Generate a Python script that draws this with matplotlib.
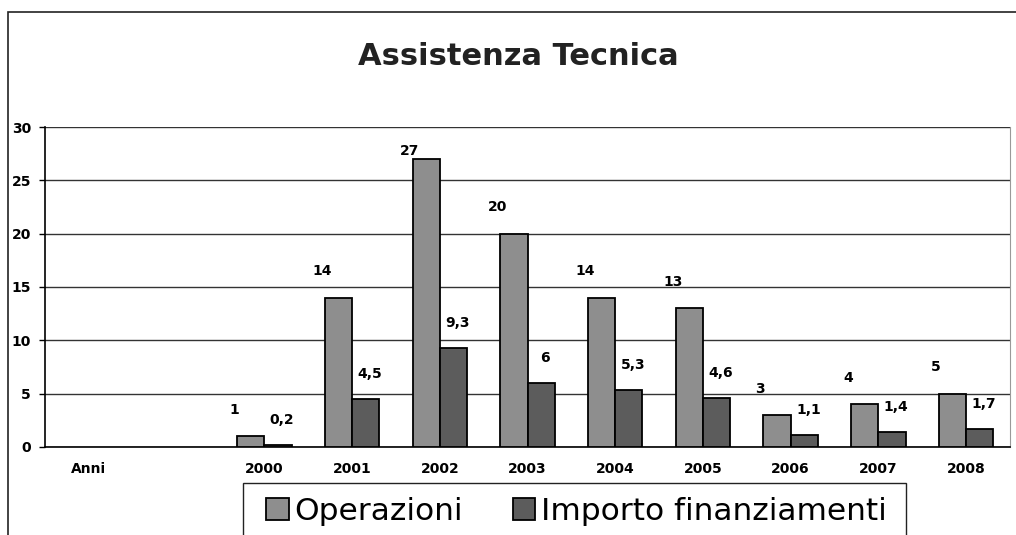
import numpy as np
import matplotlib
matplotlib.use("Agg")
import matplotlib.pyplot as plt
from matplotlib.patches import Rectangle

# -------------------------
# DATA
# -------------------------
categories = ["Anni", "", "2000", "2001", "2002", "2003", "2004",
              "2005", "2006", "2007", "2008"]
operazioni = [np.nan, np.nan, 1, 14, 27, 20, 14, 13, 3, 4, 5]
importo = [np.nan, np.nan, 0.2, 4.5, 9.3, 6, 5.3, 4.6, 1.1, 1.4, 1.7]
yticks = [0, 5, 10, 15, 20, 25, 30]

title = "Assistenza Tecnica"
series_names = ["Operazioni", "Importo finanziamenti"]

col_op = "#8e8e8e"
col_imp = "#5c5c5c"
font = ["DejaVu Sans"]


def fmt(v):
    # italian decimal comma
    return f"{v:g}".replace(".", ",")


fig = plt.figure(figsize=(10.16, 5.35), dpi=100)
ax = fig.add_axes([45 / 1016, 88 / 535, 965 / 1016, 320 / 535])

x = np.arange(len(categories))
w = 0.31
bars_op = ax.bar(x - w / 2, operazioni, w, color=col_op, edgecolor="black",
                 linewidth=1.3, zorder=3, label=series_names[0])
bars_imp = ax.bar(x + w / 2, importo, w, color=col_imp, edgecolor="black",
                  linewidth=1.3, zorder=3, label=series_names[1])

# value labels, placed up-left of the grey bars and above the dark ones
for xi, v in zip(x, operazioni):
    if np.isnan(v):
        continue
    dy = 19 if v < 25 else 6
    ax.annotate(fmt(v), (xi - w / 2, v), xytext=(-12, dy),
                textcoords="offset points", ha="center", va="center",
                fontsize=10, fontweight="bold", family=font)
for xi, v in zip(x, importo):
    if np.isnan(v):
        continue
    ax.annotate(fmt(v), (xi + w / 2, v), xytext=(3, 18),
                textcoords="offset points", ha="center", va="center",
                fontsize=10, fontweight="bold", family=font)

ax.set_xlim(-0.5, len(categories) - 0.5)
ax.set_ylim(0, 30)
ax.set_yticks(yticks)
ax.set_yticklabels([str(t) for t in yticks], fontsize=10, fontweight="bold",
                   family=font)
ax.set_xticks(x)
ax.set_xticklabels(categories, fontsize=10, fontweight="bold", family=font)
ax.tick_params(axis="y", length=4, width=1, pad=6)
ax.tick_params(axis="x", length=0, pad=11)

ax.yaxis.grid(True, color="#333333", linewidth=1.0, zorder=0)
ax.set_axisbelow(True)
ax.spines["top"].set_visible(False)
ax.spines["right"].set_color("#999999")
ax.spines["left"].set_linewidth(1.2)
ax.spines["bottom"].set_linewidth(1.2)

fig.text(518 / 1016, 1 - 57 / 535, title, ha="center", va="center",
         fontsize=22, fontweight="bold", family=font, color="#222222")

# legend without its own frame; the box is drawn below (cut off at the bottom)
leg = fig.legend(handles=[bars_op, bars_imp], labels=series_names,
                 loc="upper left", bbox_to_anchor=(266 / 1016, 1 - 497 / 535),
                 bbox_transform=fig.transFigure, ncol=2,
                 prop={"family": font, "size": 22.5},
                 frameon=False, handlelength=0.72, handleheight=0.72,
                 handletextpad=0.18, columnspacing=1.6, borderpad=0,
                 borderaxespad=0)

fig.patches.append(Rectangle((243 / 1016, -0.05), (906 - 243) / 1016,
                             (535 - 483) / 535 + 0.05,
                             transform=fig.transFigure, fill=False,
                             edgecolor="#222222", linewidth=1.0))

# outer chart border (cut off at right and bottom in the scan)
fig.patches.append(Rectangle((8 / 1016, -0.1), 1.2, 1 - 12 / 535 + 0.1,
                             transform=fig.transFigure, fill=False,
                             edgecolor="#222222", linewidth=1.2))

fig.savefig("out.png", dpi=100)
